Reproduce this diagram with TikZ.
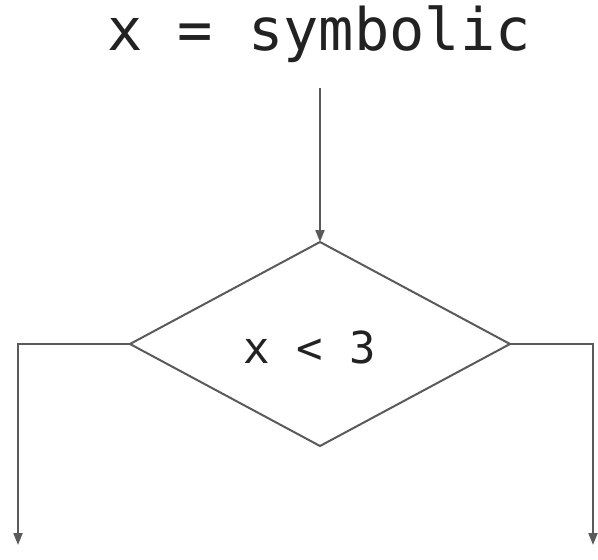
\documentclass[tikz,border=0pt]{standalone}
\usepackage{fontspec}
\setmonofont{DejaVu Sans Mono}
\usetikzlibrary{arrows.meta}
\definecolor{linegray}{HTML}{5A5A5A}
\definecolor{textdark}{HTML}{222222}
\begin{document}
\begin{tikzpicture}[x=1pt,y=-1pt,
  conn/.style={draw=linegray,line width=2pt},
  arr/.style={conn,-{Triangle[length=12pt,width=9pt]}},
  lbl/.style={text=textdark,font=\ttfamily,inner sep=0pt}]
\useasboundingbox (0,0) rectangle (598,560);
\node[lbl,font=\ttfamily\fontsize{58.6}{70}\selectfont,anchor=base] (title) at (319,50) {x = symbolic};
\coordinate (start) at (320,88);
\coordinate (top) at (320,242);
\coordinate (left) at (130,344);
\coordinate (right) at (510,344);
\coordinate (bottom) at (320,446);
\draw[conn] (top) -- (right) -- (bottom) -- (left) -- cycle;
\node[lbl,font=\ttfamily\fontsize{44}{50}\selectfont,anchor=base] (cond) at (310,363) {x < 3};
\coordinate (lout) at (18,545);
\coordinate (rout) at (593,545);
\draw[arr] (start) -- (top);
\draw[arr] (left) -| (lout);
\draw[arr] (right) -| (rout);
\end{tikzpicture}
\end{document}
